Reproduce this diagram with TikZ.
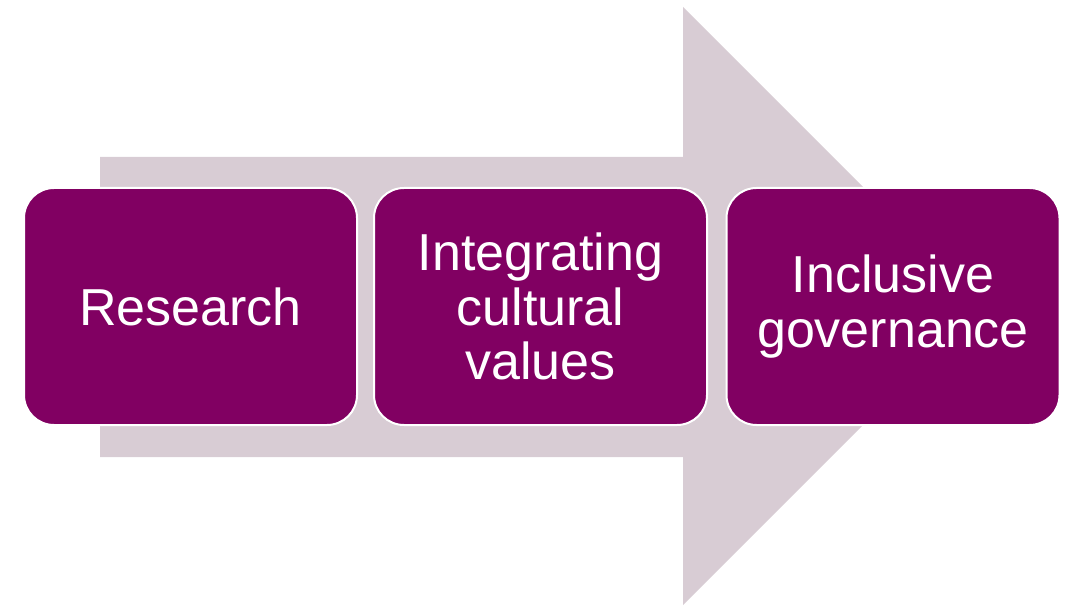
\documentclass[tikz,border=0pt]{standalone}
\usepackage{fontspec}
\setmainfont{Liberation Sans}
\definecolor{stagepurple}{RGB}{129,0,98}
\definecolor{arrowgrey}{RGB}{216,204,212}
\begin{document}
\begin{tikzpicture}
[x=1pt,y=1pt,
  boxdecorate/.style={shape=rectangle,rounded corners=30pt,fill=stagepurple,
    draw=white,line width=2pt,minimum width=333pt,minimum height=237pt,
    text=white,align=center,font=\fontsize{52}{54.5}\selectfont},
  arrowdecorate/.style={fill=arrowgrey,draw=none}]
\useasboundingbox (0,0) rectangle (1074,606);
%% background arrow
\fill[arrowdecorate] (100,449) -- (683,449) -- (683,599) -- (982,300)
  -- (683,1) -- (683,149) -- (100,149) -- cycle;
%% nodes or stages
\foreach \nodename/\x/\y/\label in {research/190.5/299.5/Research,
  cultural/540.5/299.5/Integrating\\cultural\\values,
  governance/893/299.5/Inclusive\\governance} {
  \node (\nodename) at (\x,\y) [boxdecorate] {\label};
}
\end{tikzpicture}
\end{document}
